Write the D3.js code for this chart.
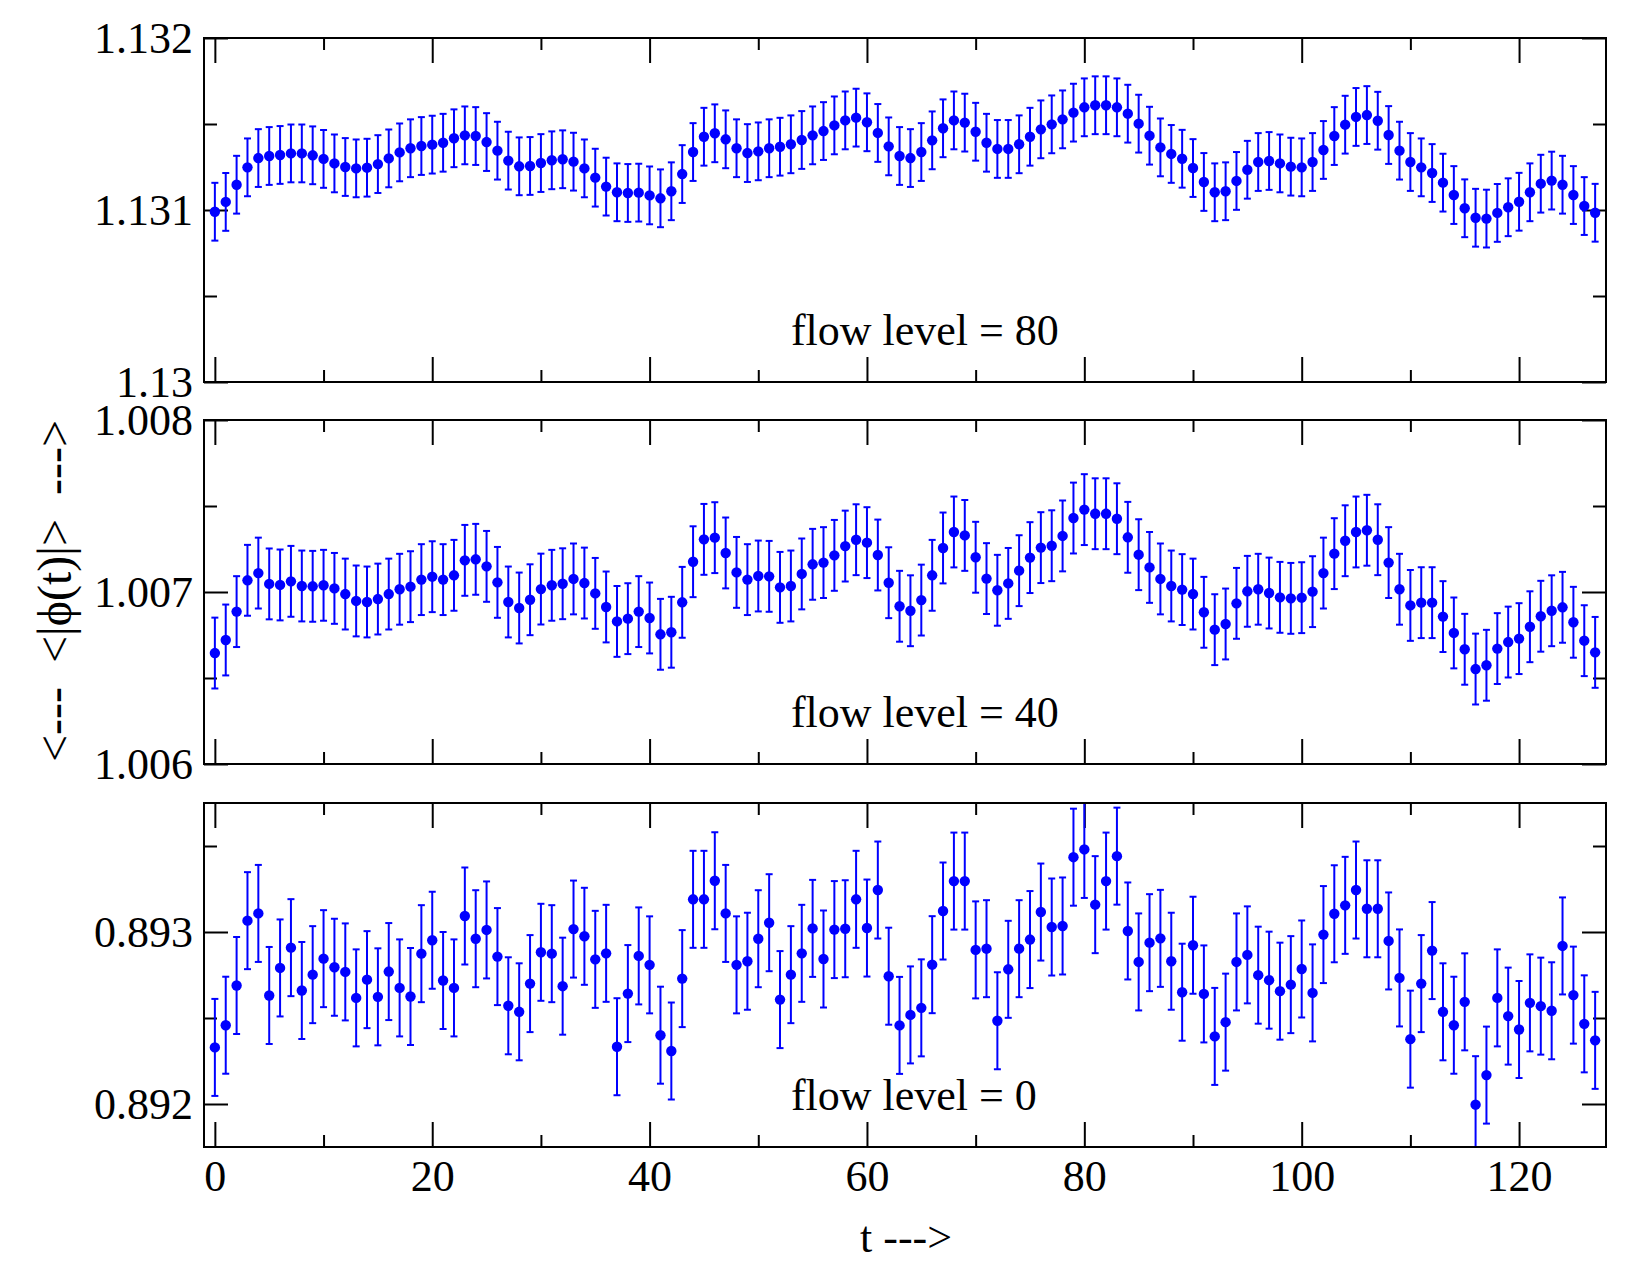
<!DOCTYPE html>
<html><head><meta charset="utf-8">
<script src="https://cdn.jsdelivr.net/npm/d3@7"></script>
<style>
body{margin:0;background:#fff}
svg text{font-family:"Liberation Serif","Times New Roman",serif;fill:#000}
</style></head>
<body><svg id="chart" width="1650" height="1275"></svg>
<script>
// ---- data ----
const tValues = d3.range(0, 128);
const xMajorTicks = [0, 20, 40, 60, 80, 100, 120];
const xMinorTicks = [10, 30, 50, 70, 90, 110];
const xTickLabels = ["0", "20", "40", "60", "80", "100", "120"];

const phi80 = [
1.13099,1.131047,1.131147,1.131248,1.131302,1.131314,1.13132,1.131329,1.131329,1.131318,1.131297,1.131271,1.13125,1.131242,1.131246,1.131267,
1.1313,1.131335,1.131359,1.131372,1.13138,1.131391,1.131417,1.131434,1.13143,1.131395,1.131345,1.131287,1.131254,1.131256,1.131273,1.131289,
1.131295,1.131281,1.131242,1.131188,1.131136,1.131103,1.131099,1.131101,1.131085,1.131068,1.131109,1.131209,1.131337,1.131426,1.131446,1.131411,
1.131359,1.131331,1.131341,1.131359,1.131368,1.131382,1.131407,1.131434,1.131459,1.131492,1.131521,1.131537,1.13151,1.131448,1.13137,1.131314,
1.131302,1.131337,1.131405,1.131475,1.131521,1.131508,1.131455,1.131391,1.131355,1.131355,1.131382,1.131426,1.131469,1.131498,1.131527,1.131566,
1.131597,1.131609,1.131609,1.131597,1.13156,1.131502,1.131432,1.131364,1.131326,1.131298,1.131244,1.131163,1.131103,1.131109,1.131169,1.131234,
1.131279,1.131285,1.131271,1.131252,1.131248,1.131279,1.131349,1.13143,1.131496,1.131541,1.131552,1.131519,1.131436,1.131345,1.131279,1.131248,
1.131215,1.131159,1.131087,1.13101,1.130955,1.13095,1.130983,1.131016,1.131048,1.131103,1.131153,1.131171,1.131147,1.131087,1.131023,1.130984];
const err80 = [
0.000168,0.000168,0.000168,0.000168,0.000168,0.000168,0.000168,0.000168,0.000168,0.000168,0.000168,0.000168,0.000168,0.000168,0.000168,0.000168,
0.000168,0.000168,0.000168,0.000168,0.000168,0.000168,0.000168,0.000168,0.000168,0.000168,0.000168,0.000168,0.000168,0.000168,0.000168,0.000168,
0.000168,0.000168,0.000168,0.000168,0.000168,0.000168,0.000168,0.000168,0.000168,0.000168,0.000168,0.000168,0.000168,0.000168,0.000168,0.000168,
0.000168,0.000168,0.000168,0.000168,0.000168,0.000168,0.000168,0.000168,0.000168,0.000168,0.000168,0.000168,0.000168,0.000168,0.000168,0.000168,
0.000168,0.000168,0.000168,0.000168,0.000168,0.000168,0.000168,0.000168,0.000168,0.000168,0.000168,0.000168,0.000168,0.000168,0.000168,0.000168,
0.000168,0.000168,0.000168,0.000168,0.000168,0.000168,0.000168,0.000168,0.000168,0.000168,0.000168,0.000168,0.000168,0.000168,0.000168,0.000168,
0.000168,0.000168,0.000168,0.000168,0.000168,0.000168,0.000168,0.000168,0.000168,0.000168,0.000168,0.000168,0.000168,0.000168,0.000168,0.000168,
0.000168,0.000168,0.000168,0.000168,0.000168,0.000168,0.000168,0.000168,0.000168,0.000168,0.000168,0.000168,0.000168,0.000168,0.000168,0.000168];

const phi40 = [
1.006645,1.006721,1.006886,1.007068,1.00711,1.007047,1.007041,1.007062,1.007035,1.007033,1.007039,1.007021,1.006988,1.006948,1.006942,1.006959,
1.006988,1.007016,1.007031,1.007072,1.007089,1.007072,1.007097,1.007184,1.00719,1.007149,1.007056,1.006942,1.006907,1.006955,1.007017,1.007039,
1.007048,1.007076,1.007052,1.006992,1.006913,1.006829,1.006845,1.006886,1.006849,1.006754,1.006766,1.00694,1.007176,1.007306,1.007316,1.007227,
1.007114,1.007072,1.007093,1.007091,1.007027,1.007035,1.007105,1.007161,1.007171,1.007213,1.007267,1.007304,1.007287,1.007215,1.007054,1.006917,
1.006891,1.006953,1.007097,1.007256,1.007349,1.007329,1.007202,1.007078,1.00701,1.00705,1.007124,1.0072,1.007258,1.007269,1.007326,1.00743,
1.007479,1.007455,1.007455,1.007426,1.007318,1.007217,1.007143,1.007076,1.007035,1.007014,1.006988,1.006882,1.006781,1.006814,1.006934,1.007004,
1.007016,1.006994,1.006969,1.006963,1.006967,1.007002,1.00711,1.007223,1.007298,1.007349,1.007359,1.007304,1.007171,1.007016,1.006922,1.006938,
1.006938,1.006857,1.006762,1.006667,1.006552,1.006574,1.006671,1.006709,1.006729,1.006798,1.006859,1.006891,1.006911,1.006824,1.006717,1.006649];
const err40 = [
0.000206,0.000206,0.000206,0.000206,0.000206,0.000206,0.000206,0.000206,0.000206,0.000206,0.000206,0.000206,0.000206,0.000206,0.000206,0.000206,
0.000206,0.000206,0.000206,0.000206,0.000206,0.000206,0.000206,0.000206,0.000206,0.000206,0.000206,0.000206,0.000206,0.000206,0.000206,0.000206,
0.000206,0.000206,0.000206,0.000206,0.000206,0.000206,0.000206,0.000206,0.000206,0.000206,0.000206,0.000206,0.000206,0.000206,0.000206,0.000206,
0.000206,0.000206,0.000206,0.000206,0.000206,0.000206,0.000206,0.000206,0.000206,0.000206,0.000206,0.000206,0.000206,0.000206,0.000206,0.000206,
0.000206,0.000206,0.000206,0.000206,0.000206,0.000206,0.000206,0.000206,0.000206,0.000206,0.000206,0.000206,0.000206,0.000206,0.000206,0.000206,
0.000206,0.000206,0.000206,0.000206,0.000206,0.000206,0.000206,0.000206,0.000206,0.000206,0.000206,0.000206,0.000206,0.000206,0.000206,0.000206,
0.000206,0.000206,0.000206,0.000206,0.000206,0.000206,0.000206,0.000206,0.000206,0.000206,0.000206,0.000206,0.000206,0.000206,0.000206,0.000206,
0.000206,0.000206,0.000206,0.000206,0.000206,0.000206,0.000206,0.000206,0.000206,0.000206,0.000206,0.000206,0.000206,0.000206,0.000206,0.000206];

const phi0 = [
0.892329,0.892458,0.892689,0.893066,0.893108,0.892631,0.892791,0.892909,0.89266,0.892752,0.892845,0.892795,0.892768,0.892617,0.892723,0.892623,
0.89277,0.892675,0.892625,0.892874,0.892952,0.892718,0.892675,0.893093,0.892961,0.893012,0.892857,0.892571,0.892536,0.8927,0.892882,0.892874,
0.892685,0.893017,0.892975,0.892841,0.892876,0.892333,0.892642,0.892861,0.892809,0.8924,0.892308,0.892729,0.89319,0.89319,0.893298,0.893108,
0.892809,0.89283,0.892961,0.893054,0.892607,0.892752,0.892876,0.893021,0.892843,0.893014,0.893019,0.89319,0.893023,0.893244,0.892743,0.892457,
0.892518,0.892559,0.89281,0.893122,0.893296,0.893296,0.892896,0.892903,0.892484,0.892783,0.892903,0.892956,0.893116,0.893029,0.893035,0.893435,
0.89348,0.893159,0.893296,0.893441,0.893006,0.892826,0.892938,0.892963,0.89283,0.89265,0.892923,0.89264,0.892393,0.892476,0.892826,0.892867,
0.892749,0.89272,0.892656,0.892694,0.892785,0.892646,0.892985,0.893106,0.893155,0.893244,0.893135,0.893135,0.892948,0.892733,0.892377,0.8927,
0.892892,0.892536,0.892458,0.892594,0.891996,0.892168,0.892617,0.892511,0.892433,0.892588,0.892569,0.892542,0.892919,0.892633,0.892466,0.89237];
const err0 = [
0.000282,0.000282,0.000282,0.000282,0.000282,0.000282,0.000282,0.000282,0.000282,0.000282,0.000282,0.000282,0.000282,0.000282,0.000282,0.000282,
0.000282,0.000282,0.000282,0.000282,0.000282,0.000282,0.000282,0.000282,0.000282,0.000282,0.000282,0.000282,0.000282,0.000282,0.000282,0.000282,
0.000282,0.000282,0.000282,0.000282,0.000282,0.000282,0.000282,0.000282,0.000282,0.000282,0.000282,0.000282,0.000282,0.000282,0.000282,0.000282,
0.000282,0.000282,0.000282,0.000282,0.000282,0.000282,0.000282,0.000282,0.000282,0.000282,0.000282,0.000282,0.000282,0.000282,0.000282,0.000282,
0.000282,0.000282,0.000282,0.000282,0.000282,0.000282,0.000282,0.000282,0.000282,0.000282,0.000282,0.000282,0.000282,0.000282,0.000282,0.000282,
0.000282,0.000282,0.000282,0.000282,0.000282,0.000282,0.000282,0.000282,0.000282,0.000282,0.000282,0.000282,0.000282,0.000282,0.000282,0.000282,
0.000282,0.000282,0.000282,0.000282,0.000282,0.000282,0.000282,0.000282,0.000282,0.000282,0.000282,0.000282,0.000282,0.000282,0.000282,0.000282,
0.000282,0.000282,0.000282,0.000282,0.000282,0.000282,0.000282,0.000282,0.000282,0.000282,0.000282,0.000282,0.000282,0.000282,0.000282,0.000282];

const panelLabels = ["flow level = 80", "flow level = 40", "flow level = 0"];
const yDomains = [[1.130, 1.132], [1.006, 1.008], [0.89175, 0.89375]];
const yMajorTicks = [[1.130, 1.131, 1.132], [1.006, 1.007, 1.008], [0.892, 0.893]];
const yMinorTicks = [[1.1305, 1.1315], [1.0065, 1.0075], [0.8925, 0.8935]];
const yTickLabels = [["1.13", "1.131", "1.132"], ["1.006", "1.007", "1.008"], ["0.892", "0.893"]];
const xTitle = "t --->";
const yTitle = "<---  <|\u03D5(t)|>  --->";

// ---- layout ----
const svg = d3.select("#chart");
const left = 204, right = 1606;
const panelTops = [38, 420, 803];
const panelHeight = 344;
const FONT = 44;
const blue = "#0000ff";

const x = d3.scaleLinear().domain([-1, 128]).range([left, right]);

const series = [
  {v: phi80, e: err80},
  {v: phi40, e: err40},
  {v: phi0, e: err0}
];

series.forEach((s, i) => {
  const top = panelTops[i], bottom = top + panelHeight;
  const y = d3.scaleLinear().domain(yDomains[i]).range([bottom, top]);
  const g = svg.append("g");

  const clipId = "clip" + i;
  svg.append("clipPath").attr("id", clipId).append("rect")
    .attr("x", left).attr("y", top).attr("width", right - left).attr("height", panelHeight);

  const tickStyle = sel => { sel.select(".domain").remove(); sel.selectAll("line").attr("stroke", "#000").attr("stroke-width", 2); };
  g.append("g").attr("transform", `translate(0,${bottom})`)
    .call(d3.axisBottom(x).tickValues(xMajorTicks).tickSize(-25)
      .tickPadding(13).tickFormat((d, k) => i === 2 ? xTickLabels[k] : ""))
    .call(tickStyle);
  g.append("g").attr("transform", `translate(0,${bottom})`)
    .call(d3.axisBottom(x).tickValues(xMinorTicks).tickSize(-12).tickFormat(""))
    .call(tickStyle);
  g.append("g").attr("transform", `translate(0,${top})`)
    .call(d3.axisTop(x).tickValues(xMajorTicks).tickSize(-25).tickFormat(""))
    .call(tickStyle);
  g.append("g").attr("transform", `translate(0,${top})`)
    .call(d3.axisTop(x).tickValues(xMinorTicks).tickSize(-12).tickFormat(""))
    .call(tickStyle);
  g.append("g").attr("transform", `translate(${left},0)`)
    .call(d3.axisLeft(y).tickValues(yMajorTicks[i]).tickSize(-24).tickPadding(11)
      .tickFormat((d, k) => yTickLabels[i][k]))
    .call(tickStyle);
  g.append("g").attr("transform", `translate(${left},0)`)
    .call(d3.axisLeft(y).tickValues(yMinorTicks[i]).tickSize(-13).tickFormat(""))
    .call(tickStyle);
  g.append("g").attr("transform", `translate(${right},0)`)
    .call(d3.axisRight(y).tickValues(yMajorTicks[i]).tickSize(-24).tickFormat(""))
    .call(tickStyle);
  g.append("g").attr("transform", `translate(${right},0)`)
    .call(d3.axisRight(y).tickValues(yMinorTicks[i]).tickSize(-13).tickFormat(""))
    .call(tickStyle);
  g.selectAll("text").attr("font-size", FONT).attr("font-family", "Liberation Serif, Times New Roman, serif").attr("fill", "#000");

  g.append("text").attr("x", x(53)).attr("y", bottom - 37)
    .attr("font-size", FONT).text(panelLabels[i]);

  const dg = svg.append("g").attr("clip-path", `url(#${clipId})`);
  const pts = tValues.map(t => ({t, v: s.v[t], e: s.e[t]}));
  const eb = dg.selectAll("g.eb").data(pts).join("g").attr("class", "eb")
    .attr("stroke", blue).attr("stroke-width", 2);
  eb.append("line").attr("x1", d => x(d.t)).attr("x2", d => x(d.t))
    .attr("y1", d => y(d.v - d.e)).attr("y2", d => y(d.v + d.e));
  eb.append("line").attr("x1", d => x(d.t) - 3.5).attr("x2", d => x(d.t) + 3.5)
    .attr("y1", d => y(d.v + d.e)).attr("y2", d => y(d.v + d.e));
  eb.append("line").attr("x1", d => x(d.t) - 3.5).attr("x2", d => x(d.t) + 3.5)
    .attr("y1", d => y(d.v - d.e)).attr("y2", d => y(d.v - d.e));
  dg.selectAll("circle").data(pts).join("circle")
    .attr("cx", d => x(d.t)).attr("cy", d => y(d.v)).attr("r", 5.2).attr("fill", blue);

  svg.append("rect").attr("x", left).attr("y", top).attr("width", right - left).attr("height", panelHeight)
    .attr("fill", "none").attr("stroke", "#000").attr("stroke-width", 2);
});

svg.append("text").attr("x", 906).attr("y", 1252).attr("text-anchor", "middle")
  .attr("font-size", FONT).text(xTitle);
svg.append("text").attr("transform", "translate(54,591) rotate(-90)")
  .attr("text-anchor", "middle").attr("dominant-baseline", "central")
  .attr("font-size", 48).style("white-space", "pre").text(yTitle);
</script></body></html>
